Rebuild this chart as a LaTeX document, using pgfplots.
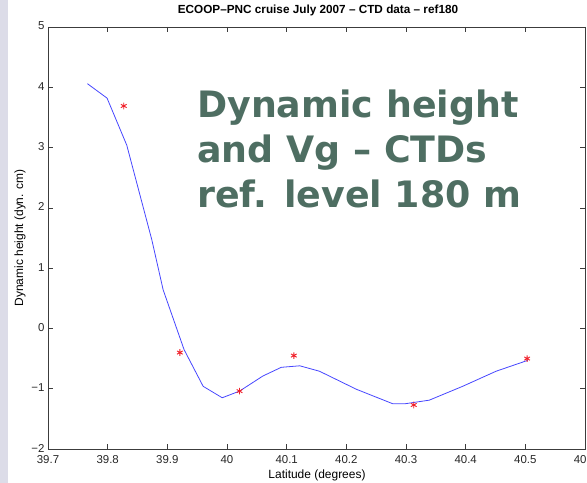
\documentclass[border=0pt]{standalone}
\usepackage{pgfplots}
\pgfplotsset{compat=1.18}
\usepackage{fontspec}
\setmainfont{Liberation Sans}
\newfontfamily\bigfont{DejaVu Sans}
\definecolor{slidebg}{RGB}{220,220,232}
\definecolor{bigtxt}{RGB}{78,110,98}
\definecolor{axgray}{RGB}{60,60,60}
\definecolor{lineblue}{RGB}{70,70,255}
\definecolor{starred}{RGB}{240,30,40}
\begin{document}
\begin{tikzpicture}
\path[use as bounding box] (0bp,0bp) rectangle (587bp,483bp);
\fill[slidebg] (0bp,0bp) rectangle (8bp,483bp);
\begin{axis}[
  anchor=south west, at={(48bp,34bp)},
  width=537bp, height=422bp, scale only axis,
  xmin=39.7, xmax=40.6, ymin=-2, ymax=5,
  xtick={39.7,39.8,39.9,40,40.1,40.2,40.3,40.4,40.5,40.6},
  xticklabels={39.7,39.8,39.9,40,40.1,40.2,40.3,40.4,40.5,40.6},
  ytick={-2,-1,0,1,2,3,4,5},
  yticklabels={−2,−1,0,1,2,3,4,5},
  tick align=inside, tick pos=both,
  major tick length=5bp,
  axis line style={axgray, line width=0.8pt},
  tick style={axgray, line width=0.6pt},
  ticklabel style={font=\fontsize{11.5}{13}\selectfont, text=black!85},
  xticklabel style={yshift=-2.5bp},
  yticklabel style={xshift=0bp, yshift=1bp},
  /pgf/number format/assume math mode=true,
  clip=false,
]
\addplot[lineblue, line width=0.8pt] coordinates {
(39.766,4.06) (39.799,3.82) (39.832,3.04) (39.874,1.47) (39.893,0.64)
(39.928,-0.35) (39.960,-0.96) (39.992,-1.15) (40.021,-1.04) (40.060,-0.79)
(40.091,-0.645) (40.122,-0.62) (40.155,-0.71) (40.217,-1.01) (40.278,-1.25)
(40.298,-1.25) (40.339,-1.19) (40.395,-0.96) (40.451,-0.71) (40.504,-0.53)
};
\addplot[only marks, starred, mark=asterisk, mark size=3.3bp, mark options={line width=0.9pt}] coordinates {
(39.827,3.69) (39.921,-0.40) (40.021,-1.04) (40.112,-0.45) (40.313,-1.27) (40.503,-0.50)
};
\end{axis}
\node[font=\bfseries\fontsize{11.8}{13}\selectfont] at (318bp,472.5bp) {ECOOP–PNC cruise July 2007 – CTD data – ref180};
\node[font=\fontsize{12}{14}\selectfont] at (317bp,8bp) {Latitude (degrees)};
\node[font=\fontsize{12}{14}\selectfont, rotate=90] at (20bp,245bp) {Dynamic height (dyn. cm)};
\node[anchor=base west, inner sep=0pt, text=bigtxt, font=\bigfont\bfseries\fontsize{36.5}{42}\selectfont] at (197bp,365bp) {Dynamic height};
\node[anchor=base west, inner sep=0pt, text=bigtxt, font=\bigfont\bfseries\fontsize{36.5}{42}\selectfont] at (197bp,320bp) {and Vg – CTDs};
\node[anchor=base west, inner sep=0pt, text=bigtxt, font=\bigfont\bfseries\fontsize{36.5}{42}\selectfont] at (197bp,275bp) {ref. level 180 m};
\end{tikzpicture}
\end{document}
